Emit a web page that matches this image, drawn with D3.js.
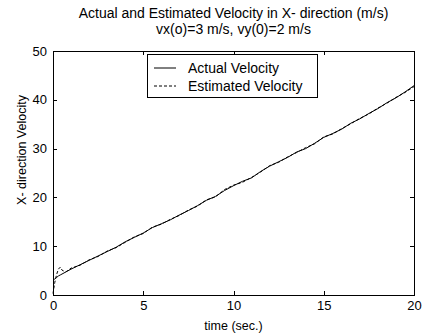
<!DOCTYPE html>
<html><head><meta charset="utf-8">
<script src="https://cdn.jsdelivr.net/npm/d3@7"></script>
<style>body{margin:0;background:#fff}svg{display:block}text{font-family:"Liberation Sans",Arial,sans-serif;fill:#000}</style>
</head><body><svg id="c" width="423" height="333"></svg>
<script>
const titleLines = ["Actual and Estimated Velocity in X- direction (m/s)", "vx(o)=3 m/s, vy(0)=2 m/s"];
const xLabel = "time (sec.)";
const yLabel = "X- direction Velocity";
const seriesNames = ["Actual Velocity", "Estimated Velocity"];
const xTicks = [0, 5, 10, 15, 20];
const yTicks = [0, 10, 20, 30, 40, 50];
const times = [0,0.1,0.2,0.3,0.4,0.5,0.7,1,1.5,2,2.5,3,3.5,4,4.5,5,5.5,6,6.5,7,7.5,8,8.5,9,9.5,10,10.5,11,11.5,12,12.5,13,13.5,14,14.5,15,15.5,16,16.5,17,17.5,18,18.5,19,19.5,20];
const actual = [3.0,3.3,3.6,3.9,4.1,4.3,4.7,5.3,6.2,7.1,8.0,8.9,9.8,10.9,11.8,12.7,13.8,14.6,15.4,16.4,17.3,18.3,19.4,20.2,21.4,22.4,23.3,24.0,25.3,26.4,27.3,28.2,29.3,30.0,31.1,32.3,33.1,34.0,35.2,36.1,37.2,38.2,39.4,40.4,41.6,42.9];
const estimated = [0.3,2.6,4.2,5.3,5.7,5.1,4.7,5.5,6.1,7.2,7.9,9.0,9.7,10.8,11.9,12.6,13.9,14.5,15.5,16.3,17.4,18.2,19.5,20.1,21.6,22.5,23.1,24.1,25.2,26.5,27.2,28.3,29.2,30.2,31.0,32.4,33.0,34.1,35.1,36.2,37.1,38.3,39.3,40.5,41.5,42.7];

const svg = d3.select("#c");
const L = 53, R = 414, T = 51, B = 295;
const x = d3.scaleLinear().domain([0, 20]).range([L, R]);
const y = d3.scaleLinear().domain([0, 50]).range([B, T]);
const fsTick = 13, fsTitle = 14, fsLab = 12.5, fsLeg = 14;

// frame
svg.append("rect").attr("x", L).attr("y", T).attr("width", R - L).attr("height", B - T)
  .attr("fill", "none").attr("stroke", "#000").attr("stroke-width", 1).attr("shape-rendering", "crispEdges");

const tk = 4;
const axB = svg.append("g").attr("transform", `translate(0,${B})`)
  .call(d3.axisBottom(x).tickValues(xTicks).tickSizeInner(-tk).tickSizeOuter(0).tickPadding(6));
const axT = svg.append("g").attr("transform", `translate(0,${T})`)
  .call(d3.axisTop(x).tickValues(xTicks).tickSizeInner(-tk).tickSizeOuter(0).tickFormat(""));
const axL = svg.append("g").attr("transform", `translate(${L},0)`)
  .call(d3.axisLeft(y).tickValues(yTicks).tickSizeInner(-tk).tickSizeOuter(0).tickPadding(6));
const axR = svg.append("g").attr("transform", `translate(${R},0)`)
  .call(d3.axisRight(y).tickValues(yTicks).tickSizeInner(-tk).tickSizeOuter(0).tickFormat(""));
[axB, axT, axL, axR].forEach(g => {
  g.select(".domain").remove();
  g.selectAll("line").attr("stroke", "#000").attr("shape-rendering", "crispEdges");
  g.selectAll("text").attr("font-size", fsTick).attr("font-family", "Liberation Sans, Arial, sans-serif").attr("fill", "#000");
});

const line = d3.line().x((d, i) => x(times[i])).y(d => y(d));
svg.append("path").datum(actual).attr("d", line).attr("fill", "none").attr("stroke", "#000").attr("stroke-width", 1);
svg.append("path").datum(estimated).attr("d", line).attr("fill", "none").attr("stroke", "#000").attr("stroke-width", 1).attr("stroke-dasharray", "3,2");

// titles
svg.append("text").attr("x", (L + R) / 2).attr("y", 18).attr("text-anchor", "middle").attr("font-size", fsTitle).text(titleLines[0]);
svg.append("text").attr("x", (L + R) / 2).attr("y", 34).attr("text-anchor", "middle").attr("font-size", fsTitle).text(titleLines[1]);
svg.append("text").attr("x", (L + R) / 2).attr("y", 330).attr("text-anchor", "middle").attr("font-size", fsLab).text(xLabel);
svg.append("text").attr("transform", `translate(26,150) rotate(-90)`).attr("text-anchor", "middle").attr("font-size", fsLab).text(yLabel);

// legend
const lg = svg.append("g");
lg.append("rect").attr("x", 147.5).attr("y", 54.5).attr("width", 170).attr("height", 43)
  .attr("fill", "#fff").attr("stroke", "#000").attr("stroke-width", 1);
const dashes = [null, "3,2"];
seriesNames.forEach((n, i) => {
  const yy = 68 + i * 18;
  const l = lg.append("line").attr("x1", 154).attr("x2", 176).attr("y1", yy).attr("y2", yy).attr("stroke", "#000").attr("stroke-width", 1);
  if (dashes[i]) l.attr("stroke-dasharray", dashes[i]);
  lg.append("text").attr("x", 188).attr("y", yy + 5).attr("font-size", fsLeg).text(n);
});
</script></body></html>
